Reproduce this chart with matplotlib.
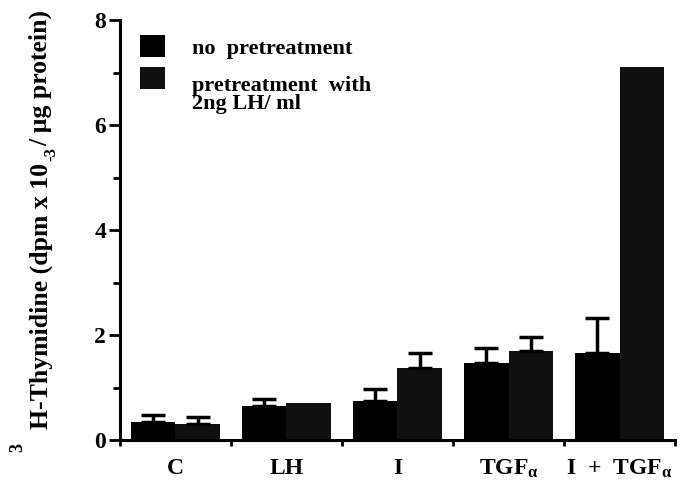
import matplotlib.pyplot as plt
from matplotlib.transforms import ScaledTranslation
import numpy as np

plt.rcParams['font.family'] = ['Liberation Serif', 'DejaVu Serif']
plt.rcParams['font.weight'] = 'bold'
plt.rcParams['mathtext.fontset'] = 'custom'
plt.rcParams['mathtext.rm'] = 'Liberation Serif:bold'
plt.rcParams['mathtext.it'] = 'Liberation Serif:bold'
plt.rcParams['mathtext.bf'] = 'Liberation Serif:bold'

groups = ['C', 'LH', 'I', 'TGF$_\\alpha$', 'I  +  TGF$_\\alpha$']
no_pre = [0.34, 0.65, 0.75, 1.46, 1.65]
no_pre_err = [0.14, 0.13, 0.22, 0.30, 0.67]
with_lh = [0.30, 0.70, 1.38, 1.70, 7.10]
with_lh_err = [0.14, 0.0, 0.28, 0.27, 0.0]

x = np.arange(len(groups))
w = 0.4

fig = plt.figure(figsize=(6.81, 4.82), dpi=100)
ax = fig.add_axes([0.1762, 0.0871, 0.815, 0.8714])

ax.bar(x - w / 2, no_pre, w, color='black', label='no  pretreatment')
ax.bar(x + w / 2, with_lh, w, color='#101010',
       label='pretreatment  with\n2ng LH/ ml')

# nur nach oben gerichtete Fehlerbalken
for xs, vals, errs in [(x - w / 2, no_pre, no_pre_err), (x + w / 2, with_lh, with_lh_err)]:
    errs = np.array(errs)
    m = errs > 0
    ax.errorbar(xs[m], np.array(vals)[m], yerr=[np.zeros(m.sum()), errs[m]],
                fmt='none', ecolor='black', elinewidth=2.5, capsize=8.5, capthick=2.5)

ax.set_xlim(-0.5, 4.5)
ax.set_ylim(0, 8)
ax.set_yticks([0, 2, 4, 6, 8])
ax.set_yticks([1, 3, 5, 7], minor=True)
ax.set_xticks(x)
ax.set_xticklabels(groups, fontsize=17)
ax.set_xticks(np.arange(-0.5, 5, 1), minor=True)
ax.tick_params(axis='x', which='major', length=0, pad=13)
ax.tick_params(axis='x', which='minor', length=4, width=2, direction='out')
ax.tick_params(axis='y', which='major', length=8, width=2, labelsize=17, pad=2)
ax.tick_params(axis='y', which='minor', length=5, width=2)

for s in ['top', 'right']:
    ax.spines[s].set_visible(False)
for s in ['left', 'bottom']:
    ax.spines[s].set_linewidth(2.2)

# Achsenbeschriftung in Teilen, Exponenten wie im Original separat gesetzt
r = fig.canvas.get_renderer()
H = 482
t1 = fig.text(41 / 681, 1 - 429 / H, 'H-Thymidine (dpm x 10', rotation=90,
              fontsize=18.5, fontweight='bold', ha='center', va='bottom')
top1 = t1.get_window_extent(r).y1
t2 = fig.text(51 / 681, (top1 + 2) / H, '-3', rotation=90, fontsize=12,
              fontweight='bold', ha='center', va='bottom')
top2 = t2.get_window_extent(r).y1
fig.text(41 / 681, (top2 + 1) / H, '/ µg protein)', rotation=90,
         fontsize=18.5, fontweight='bold', ha='center', va='bottom')
fig.text(18 / 681, 1 - 448 / H, '3', rotation=90, fontsize=13,
         fontweight='bold', ha='center', va='center')

leg = ax.legend(loc='upper left', bbox_to_anchor=(0.036, 0.964), frameon=False,
                fontsize=16, handlelength=1.13, handleheight=1.13, labelspacing=0.03,
                handletextpad=1.2, borderaxespad=0, borderpad=0)
for t in leg.get_texts():
    t.set_linespacing(0.85)
# Text des zweiten Eintrags etwas tiefer als das Kästchen, wie im Original
t = leg.get_texts()[1]
t.set_transform(t.get_transform() + ScaledTranslation(0, -17 / 100, fig.dpi_scale_trans))

plt.savefig('out.png', dpi=100)
